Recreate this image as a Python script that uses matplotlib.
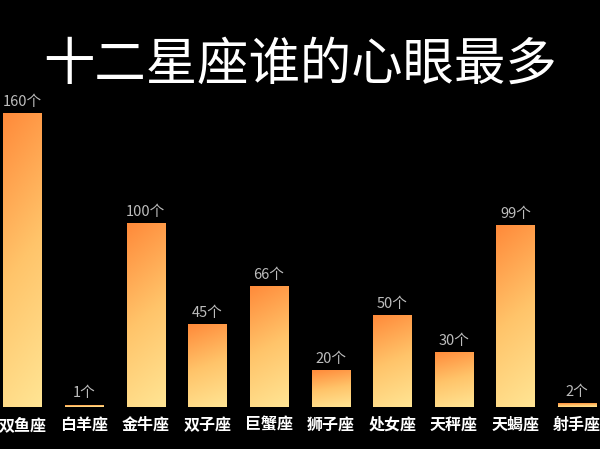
import numpy as np
import matplotlib
matplotlib.use('Agg')
import matplotlib.pyplot as plt
from matplotlib.colors import LinearSegmentedColormap

plt.rcParams['font.family'] = ['Noto Sans CJK SC', 'DejaVu Sans']

signs = ['双鱼座', '白羊座', '金牛座', '双子座', '巨蟹座', '狮子座', '处女座', '天秤座', '天蝎座', '射手座']
counts = [160, 1, 100, 45, 66, 20, 50, 30, 99, 2]
labels = [f'{c}个' for c in counts]

fig = plt.figure(figsize=(6, 4.49), dpi=100, facecolor='black')
ax = fig.add_axes([0, 0.0935, 1, 0.706])
ax.set_facecolor('black')

x = np.arange(len(signs))
bars = ax.bar(x, counts, width=0.62, color='none', edgecolor='none')

ax.set_xlim(-0.365, 9.37)
ax.set_ylim(0, 172.5)

# orange at top-left fading to pale yellow at bottom-right, per bar
cmap = LinearSegmentedColormap.from_list('warm', ['#ffe594', '#ffc46a', '#ff8a3a'])
yy, xx = np.mgrid[0:1:200j, 0:1:50j]
grad = 0.85 * yy + 0.15 * (1 - xx)
for b in bars:
    x0, w, h = b.get_x(), b.get_width(), b.get_height()
    im = ax.imshow(grad, cmap=cmap, origin='lower', aspect='auto',
                   extent=[x0, x0 + w, 0, max(h, 0.8)], vmin=0, vmax=1, zorder=2)
    im.set_clip_path(b)
    b.set_height(max(h, 1.8))

for xi, c, lab in zip(x, counts, labels):
    ax.text(xi, max(c, 1.8) + 2.2, lab, ha='center', va='bottom', color='#bdbdbd', fontsize=10.5)

ax.set_xticks(x)
ax.set_xticklabels(signs, color='white', fontsize=11.5, fontweight='bold')
ax.tick_params(axis='x', length=0, pad=7)
ax.set_yticks([])
for s in ax.spines.values():
    s.set_visible(False)

fig.text(0.5, 0.855, '十二星座谁的心眼最多', color='white', fontsize=37,
         ha='center', va='center', fontweight='medium')

fig.savefig('out.png', dpi=100, facecolor='black')
